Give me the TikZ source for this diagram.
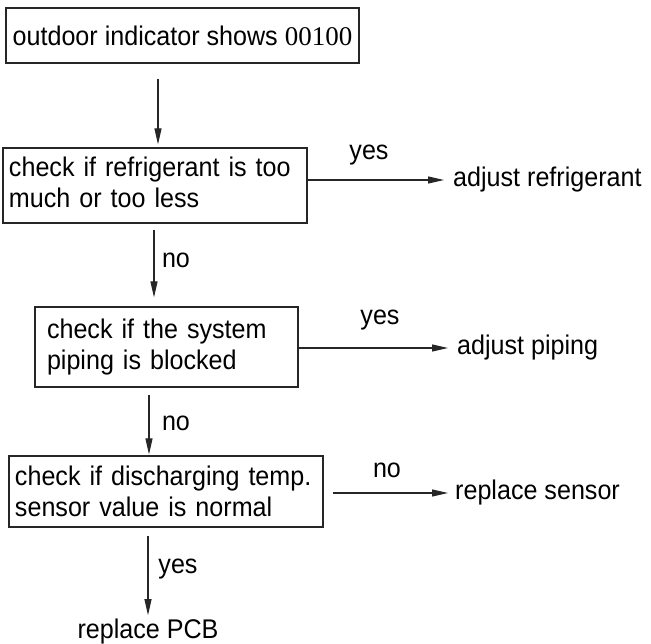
\documentclass[tikz,border=0pt]{standalone}
\usepackage{fontspec}
\setmainfont{Liberation Sans}[FakeStretch=0.93]
\newfontfamily\serifnum{Liberation Serif}
\usetikzlibrary{arrows.meta}
\begin{document}
\begin{tikzpicture}[x=1pt,y=-1pt,
  font=\fontsize{27}{31}\selectfont,
  box/.style={draw=black!85, line width=1.2pt, rectangle, inner ysep=0pt, align=left},
  lbl/.style={inner sep=0pt},
  arr/.style={draw=black!85, line width=1.1pt, -{Triangle[length=16pt,width=7pt]}}]
\useasboundingbox (0,0) rectangle (651,644);

\node[box, minimum width=353pt, minimum height=55pt, inner xsep=0pt, align=center] (b1) at (182.5,35.5)
  {outdoor indicator shows {\serifnum 00100}};

\node[box, minimum width=304pt, minimum height=75pt, inner xsep=6pt, text width=292pt] (b2) at (155,185.5)
  {check if refrigerant is too\\much or too less\vphantom{g}};

\node[box, minimum width=263pt, minimum height=80pt, inner xsep=12pt, text width=239pt] (b3) at (166.5,347)
  {check if the system\\piping is blocked};

\node[box, minimum width=314pt, minimum height=71pt, inner xsep=6pt, text width=302pt] (b4) at (166,491.5)
  {check if discharging temp.\\sensor value is normal};

\node[lbl, anchor=west] (ar) at (453,180) {adjust refrigerant};
\node[lbl, anchor=west] (ap) at (457,348) {adjust piping};
\node[lbl, anchor=west] (rs) at (455,493) {replace sensor};
\node[lbl] (pcb) at (148,632) {replace PCB};

\node[lbl] (l1) at (369,155) {yes};
\node[lbl] (l2) at (176,260) {no};
\node[lbl] (l3) at (380,320) {yes};
\node[lbl] (l4) at (176,423) {no};
\node[lbl] (l5) at (387,470) {no};
\node[lbl] (l6) at (178,569) {yes};

% vertical connectors
\draw[arr, shorten <=15pt, shorten >=3pt] ([xshift=-24.5pt]b1.south) -- ([xshift=3pt]b2.north);
\draw[arr, shorten <=6pt, shorten >=9pt] ([xshift=-1pt]b2.south) -- ([xshift=-12.5pt]b3.north);
\draw[arr, shorten <=7pt, shorten >=1pt] ([xshift=-17.5pt]b3.south) -- ([xshift=-17pt]b4.north);
\draw[arr, shorten <=8pt, shorten >=4pt] ([xshift=-18pt]b4.south) -- (pcb.north);

% horizontal connectors
\draw[arr, shorten >=9pt] (b2.east |- ar.west) -- (ar.west);
\draw[arr, shorten >=9pt] (b3.east |- ap.west) -- (ap.west);
\draw[arr, shorten <=9pt, shorten >=7pt] (b4.east |- rs.west) -- (rs.west);
\end{tikzpicture}
\end{document}
